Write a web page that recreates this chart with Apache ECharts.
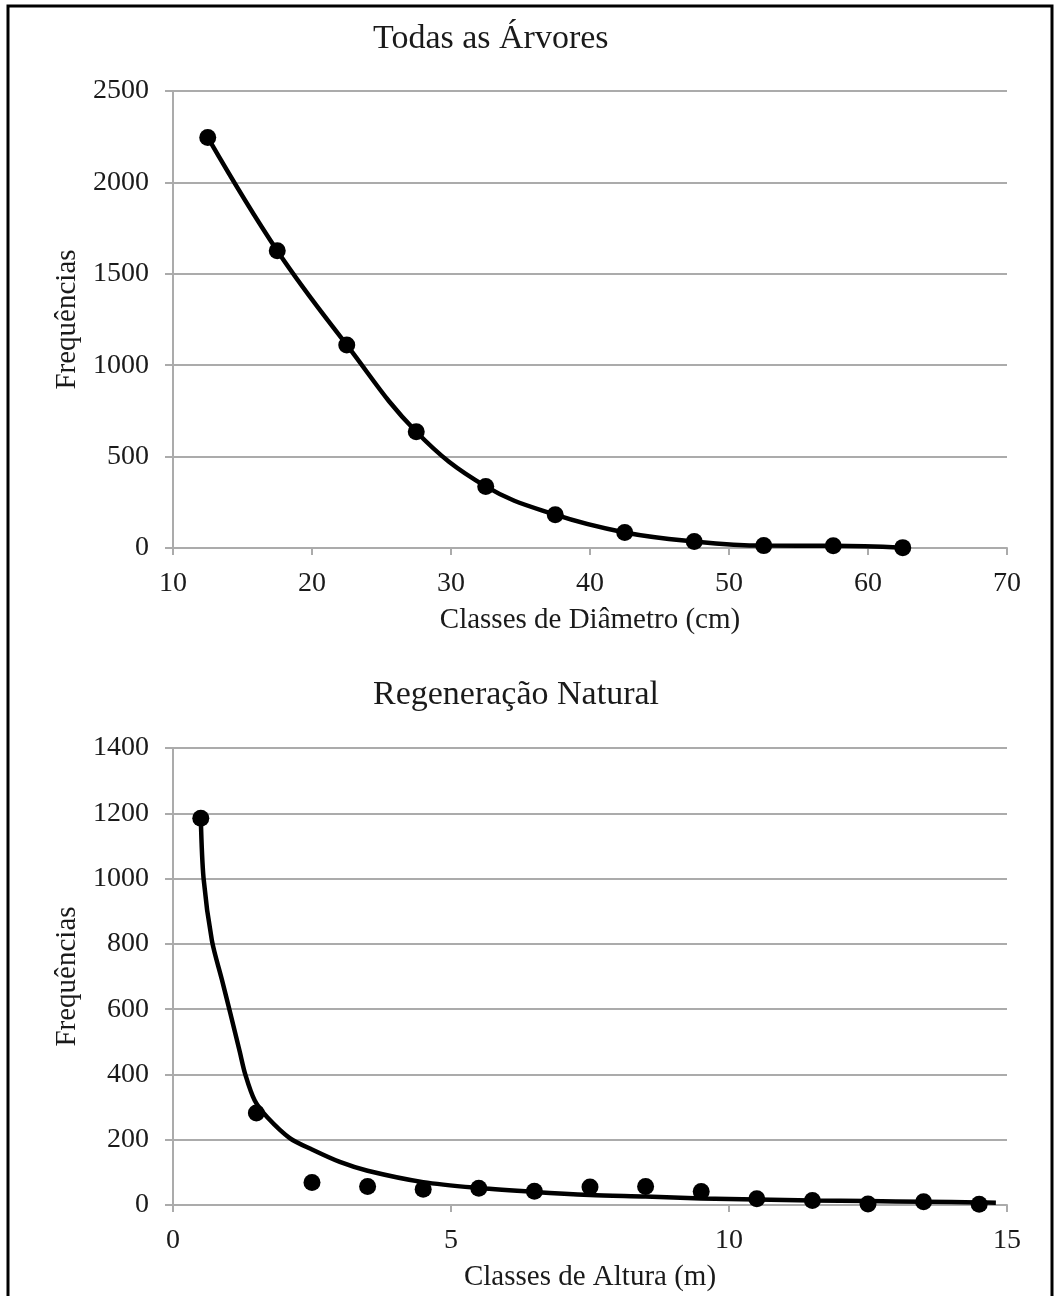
<!DOCTYPE html>
<html>
<head>
<meta charset="utf-8">
<script src="https://cdn.jsdelivr.net/npm/echarts@6/dist/echarts.min.js"></script>
<style>
html,body{margin:0;padding:0;background:#fff;}
#chart{width:1057px;height:1296px;}
</style>
</head>
<body>
<div id="chart"></div>
<script>
// ---- Data: Todas as Árvores ----
const diamClasses = [12.5, 17.5, 22.5, 27.5, 32.5, 37.5, 42.5, 47.5, 52.5, 57.5, 62.5];
const diamFreq    = [2246, 1626, 1111, 636, 337, 182, 85, 36, 13, 12, 2];

// ---- Data: Regeneração Natural ----
const heightClasses = [0.5, 1.5, 2.5, 3.5, 4.5, 5.5, 6.5, 7.5, 8.5, 9.5, 10.5, 11.5, 12.5, 13.5, 14.5];
const heightFreq    = [1185, 282, 69, 57, 48, 51, 42, 55, 57, 41, 19, 14, 3, 10, 2];

// fitted curve
const curveX = [0.5, 0.55, 0.7, 0.88, 1.03, 1.2, 1.3, 1.47, 1.7, 2.1, 2.5, 3.0, 3.5, 4.5, 5.5, 6.5, 7.5, 8.5, 9.5, 10.5, 11.5, 12.5, 13.5, 14.5, 14.8];
const curveY = [1185, 1000, 810, 690, 588, 470, 400, 320, 268, 205, 170, 132, 105, 70, 52, 40, 31, 26, 20, 17, 14, 12, 10, 8, 7];

// ---- tick settings ----
const diamTicks = {min: 10, max: 70, interval: 10};
const freqTicksTop = {min: 0, max: 2500, interval: 500};
const heightTicks = {min: 0, max: 15, interval: 5};
const freqTicksBottom = {min: 0, max: 1400, interval: 200};

const FONT = '"Liberation Serif", "Times New Roman", serif';
const TXT = '#1a1a1a';
const GRID = '#ababab';

function xAx(idx, ticks, name) {
  return {
    type: 'value', gridIndex: idx, min: ticks.min, max: ticks.max, interval: ticks.interval,
    name: name, nameLocation: 'middle', nameGap: 58,
    nameTextStyle: {fontFamily: FONT, fontSize: 29, color: TXT},
    axisLine: {show: true, lineStyle: {color: GRID, width: 2}},
    axisTick: {show: true, length: 7, lineStyle: {color: GRID, width: 2}},
    axisLabel: {fontFamily: FONT, fontSize: 28, color: TXT, margin: 22,
                formatter: v => String(v)},
    splitLine: {show: false}
  };
}
function yAx(idx, ticks, name) {
  return {
    type: 'value', gridIndex: idx, min: ticks.min, max: ticks.max, interval: ticks.interval,
    name: name, nameLocation: 'middle', nameGap: 89,
    nameTextStyle: {fontFamily: FONT, fontSize: 29, color: TXT},
    axisLine: {show: true, lineStyle: {color: GRID, width: 2}},
    axisTick: {show: true, length: 8, lineStyle: {color: GRID, width: 2}},
    axisLabel: {fontFamily: FONT, fontSize: 28, color: TXT, margin: 24,
                formatter: v => String(v)},
    splitLine: {show: true, lineStyle: {color: GRID, width: 2}}
  };
}

const chart = echarts.init(document.getElementById('chart'), null, {renderer: 'canvas'});
chart.setOption({
  backgroundColor: '#fff',
  animation: false,
  title: [
    {text: 'Todas as Árvores', left: 373, top: 22, padding: 0,
     textStyle: {fontFamily: FONT, fontSize: 34, fontWeight: 'normal', color: TXT}},
    {text: 'Regeneração Natural', left: 373, top: 678, padding: 0,
     textStyle: {fontFamily: FONT, fontSize: 34, fontWeight: 'normal', color: TXT}}
  ],
  grid: [
    {left: 173, top: 91, width: 834, height: 457},
    {left: 173, top: 748, width: 834, height: 457}
  ],
  xAxis: [xAx(0, diamTicks, 'Classes de Diâmetro (cm)'), xAx(1, heightTicks, 'Classes de Altura (m)')],
  yAxis: [yAx(0, freqTicksTop, 'Frequências'), yAx(1, freqTicksBottom, 'Frequências')],
  graphic: [{
    type: 'rect', shape: {x: 8, y: 6, width: 1044, height: 1300},
    style: {fill: 'none', stroke: '#000', lineWidth: 3}, z: 100
  }],
  series: [
    {
      type: 'line', xAxisIndex: 0, yAxisIndex: 0,
      data: diamClasses.map((x, i) => [x, diamFreq[i]]),
      smooth: 0.4, symbol: 'circle', symbolSize: 17,
      lineStyle: {color: '#000', width: 4.5},
      itemStyle: {color: '#000', opacity: 1}
    },
    {
      type: 'line', xAxisIndex: 1, yAxisIndex: 1,
      data: curveX.map((x, i) => [x, curveY[i]]),
      smooth: 0.3, showSymbol: false, symbol: 'none',
      lineStyle: {color: '#000', width: 4.5}
    },
    {
      type: 'scatter', xAxisIndex: 1, yAxisIndex: 1,
      data: heightClasses.map((x, i) => [x, heightFreq[i]]),
      symbol: 'circle', symbolSize: 17,
      itemStyle: {color: '#000', opacity: 1}, z: 3
    }
  ]
});
</script>
</body>
</html>
